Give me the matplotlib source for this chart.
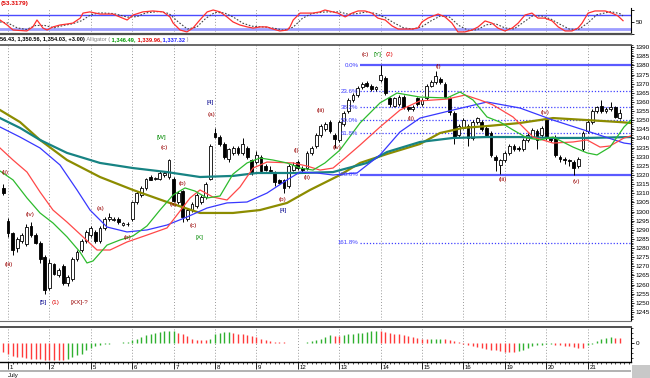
import matplotlib
matplotlib.use("Agg")
import matplotlib.pyplot as plt
import matplotlib.transforms as mtransforms
from matplotlib import font_manager
from matplotlib.lines import Line2D
from matplotlib.patches import Rectangle
from matplotlib.ticker import MultipleLocator, FixedLocator
import numpy as np

# ---------------- data ----------------
day_labels = ["1", "2", "5", "6", "7", "8", "9", "12", "13", "14", "15", "16", "19", "20", "21"]
month_label = "July"
bars_per_day = 9
first_bar = -1

opens = [1313, 1295, 1288, 1280, 1284, 1282, 1292, 1287, 1283, 1275, 1258, 1271, 1265, 1270, 1261,
         1263, 1274, 1279, 1284, 1287, 1289, 1284, 1291, 1296, 1295.5, 1296, 1292.5, 1293, 1296, 1305,
         1309, 1313, 1319, 1318, 1318, 1320, 1319, 1318, 1305, 1311, 1296, 1301, 1303, 1305, 1308,
         1318, 1343, 1341, 1337, 1329, 1332, 1335, 1332, 1335, 1328, 1327, 1330, 1325, 1323, 1321,
         1317, 1317, 1314, 1323, 1327, 1324, 1324, 1332, 1336, 1342, 1345, 1349, 1342, 1339, 1348,
         1355, 1361, 1364, 1368, 1370.5, 1369, 1367, 1372, 1373, 1362, 1358, 1359, 1363, 1357, 1356,
         1362, 1359, 1362, 1369, 1371, 1372.5, 1370, 1362, 1354, 1342, 1346, 1347, 1340, 1349, 1349,
         1346, 1343, 1330, 1325.5, 1328, 1332, 1336, 1335, 1334, 1339, 1341, 1344, 1342, 1350, 1340,
         1341, 1330, 1329, 1328, 1327, 1325, 1334, 1344, 1349, 1355, 1358, 1355, 1356, 1357, 1351]
highs = [1315, 1296.5, 1289, 1286, 1288, 1293, 1294, 1288, 1284, 1276, 1274, 1272, 1269, 1271, 1265,
         1275, 1279, 1285, 1290, 1292, 1290, 1292, 1297, 1299, 1297, 1297, 1294, 1294, 1306, 1311,
         1314, 1318.5, 1320, 1319, 1322, 1322, 1329, 1319, 1311, 1312, 1302, 1305, 1310, 1309, 1316,
         1337, 1346, 1342, 1338, 1335, 1336, 1336, 1340, 1336, 1329, 1333, 1331, 1326, 1325, 1322,
         1318, 1318, 1326, 1327, 1328, 1325, 1333, 1336, 1343, 1348, 1349, 1350, 1343, 1350, 1355,
         1362, 1365, 1368.5, 1371, 1371.5, 1370, 1369, 1380, 1374, 1363, 1363, 1364, 1364, 1358, 1358.5,
         1363, 1362, 1370, 1372, 1377, 1373.5, 1371, 1363, 1355, 1348, 1351, 1348, 1350, 1352, 1350,
         1347, 1344, 1331, 1329, 1333, 1337, 1337, 1336, 1340, 1343, 1345.5, 1345, 1347, 1351, 1341,
         1342, 1331, 1330, 1329, 1328, 1330, 1344, 1350, 1356, 1358, 1361, 1357, 1360, 1358, 1356.4]
lows = [1309, 1286, 1276, 1278, 1283, 1281, 1286, 1282, 1272, 1255, 1257, 1265, 1264, 1260, 1259,
        1262, 1273, 1278, 1283, 1286, 1283, 1283, 1290, 1295, 1295, 1293, 1292, 1292, 1295, 1304,
        1308, 1312, 1317, 1317, 1317, 1319, 1318, 1305, 1304, 1294, 1295, 1300, 1302, 1304, 1307,
        1317, 1340, 1336, 1329, 1327, 1331, 1331, 1331, 1329, 1320, 1326, 1321, 1322, 1321, 1314,
        1315, 1310, 1313, 1322, 1323, 1321, 1323, 1331, 1335, 1341, 1344, 1343, 1335, 1338, 1347,
        1354, 1360, 1363, 1367, 1368, 1366, 1366, 1371, 1364, 1357, 1357, 1358, 1356, 1355, 1355,
        1358, 1358, 1361, 1368, 1370, 1370, 1362, 1353, 1337, 1341, 1345, 1336, 1339, 1348, 1344,
        1341, 1330, 1322, 1320.5, 1327, 1331, 1333, 1333, 1333, 1338, 1340, 1334, 1341, 1339, 1338,
        1330, 1327, 1326, 1325, 1320, 1324, 1333, 1343, 1348, 1354, 1354, 1354, 1355, 1351, 1350.6]
closes = [1310, 1288, 1279, 1285, 1287, 1291.5, 1287, 1283, 1274, 1257, 1272, 1266, 1268, 1261, 1264,
          1274, 1278, 1284, 1289, 1291, 1284, 1291, 1296, 1297, 1296, 1294, 1293.5, 1293.2, 1305, 1310,
          1313, 1318, 1317.5, 1318.3, 1321, 1321, 1328, 1306, 1310, 1297, 1301, 1304, 1309, 1308, 1315,
          1336, 1341, 1337, 1330, 1334, 1335, 1332, 1337, 1330, 1321, 1331, 1322, 1323, 1322, 1316,
          1315.5, 1313, 1325, 1325.5, 1324, 1322.5, 1332, 1335, 1342, 1347, 1348, 1344, 1339.5, 1349, 1354,
          1361, 1364, 1367.5, 1370, 1369, 1367, 1368, 1375, 1365, 1359, 1362, 1363, 1357, 1356, 1357.5,
          1359, 1361, 1369, 1371, 1374, 1371, 1363, 1354.5, 1341, 1347, 1350, 1340, 1349, 1351, 1345,
          1342, 1331, 1328, 1328, 1332, 1336, 1334, 1334.5, 1339, 1342, 1344.5, 1339, 1346, 1340, 1339,
          1331, 1329, 1328, 1327.5, 1324, 1329, 1343, 1349, 1355, 1357, 1355, 1356, 1357, 1352, 1354]

# Alligator + two long averages (bar position, price)
lips_x = [-1.74, 1.09, 4.13, 6.96, 9.78, 12.83, 15.65, 17.17, 18.48, 21.52, 24.35, 27.17, 30.22, 33.04,
          35.87, 38.48, 40.65, 43.26, 46.09, 48.91, 51.96, 54.78, 57.61, 60.65, 63.48, 66.3, 68.9, 72.17,
          76.52, 80.87, 84.57, 89.57, 95.43, 98.26, 101.09, 104.13, 106.96, 109.78, 112.83, 115.65, 118.48,
          122.83, 125.87, 128.04, 130.87, 133.91, 135.43]
lips_y = [1322.2, 1317.3, 1307.4, 1299.2, 1293.7, 1286.1, 1277.8, 1271.8, 1272.9, 1281.6, 1284.4, 1286.6,
          1292.1, 1300.8, 1309.0, 1312.9, 1311.2, 1307.4, 1308.5, 1320.5, 1326.6, 1329.3, 1328.2, 1326.6,
          1323.8, 1322.7, 1326.6, 1333.7, 1348.5, 1359.5, 1364.9, 1362.7, 1362.2, 1365.5, 1361.1, 1351.8,
          1349.0, 1344.7, 1340.3, 1339.2, 1340.8, 1335.3, 1332.1, 1331.0, 1335.3, 1346.3, 1350.1]
teeth_x = [-1.74, 1.09, 4.13, 6.96, 9.78, 12.83, 16.3, 19.35, 22.17, 25.87, 30.22, 34.57, 36.74, 39.57,
           41.74, 44.57, 47.61, 50.43, 53.26, 56.3, 61.96, 65.0, 67.83, 70.65, 73.26, 76.52, 80.87, 85.22,
           89.57, 95.43, 99.35, 102.61, 105.43, 109.78, 114.13, 118.48, 122.83, 125.87, 128.7, 130.87,
           133.91, 135.43]
teeth_y = [1334.8, 1328.2, 1321.6, 1310.7, 1300.8, 1294.2, 1286.1, 1278.9, 1278.9, 1283.3, 1287.1, 1291.0,
           1298.1, 1307.4, 1311.8, 1307.9, 1306.3, 1313.4, 1323.8, 1327.1, 1326.6, 1324.9, 1322.7, 1323.8,
           1329.3, 1336.4, 1346.3, 1355.6, 1360.6, 1361.6, 1363.8, 1361.1, 1358.4, 1351.8, 1340.8, 1337.5,
           1338.1, 1339.2, 1335.3, 1335.9, 1340.3, 1341.4]
jaw_x = [-1.74, 2.61, 6.96, 11.3, 15.0, 17.83, 21.52, 25.87, 30.22, 34.57, 38.91, 43.26, 47.61, 51.96,
         56.3, 60.65, 63.48, 67.17, 70.65, 75.87, 80.87, 85.22, 89.57, 96.74, 104.13, 111.3, 118.48,
         125.87, 133.91, 135.43]
jaw_y = [1346.3, 1340.8, 1334.8, 1325.5, 1311.8, 1300.8, 1291.5, 1288.8, 1289.9, 1292.6, 1297.0, 1301.9,
         1304.7, 1305.2, 1310.1, 1317.3, 1321.6, 1321.1, 1320.0, 1321.1, 1331.0, 1343.6, 1351.2, 1355.6,
         1360.0, 1356.7, 1350.1, 1344.1, 1337.5, 1337.0]
ma_teal_x = [-1.74, 2.61, 6.96, 12.83, 20.0, 27.17, 34.57, 41.74, 48.91, 54.13, 63.48, 70.65, 78.04,
             82.39, 89.57, 96.74, 104.13, 111.3, 118.48, 125.87, 135.43]
ma_teal_y = [1351.2, 1345.8, 1339.2, 1332.1, 1326.6, 1323.8, 1321.6, 1318.9, 1319.5, 1321.1, 1321.1,
             1321.6, 1326.6, 1332.6, 1338.1, 1340.3, 1340.8, 1340.8, 1340.3, 1340.3, 1340.8]
ma_olive_x = [-1.74, 2.61, 6.96, 12.83, 20.0, 27.17, 34.57, 41.74, 48.91, 54.78, 60.65, 65.65, 72.17,
              76.52, 82.39, 89.57, 93.91, 98.91, 104.13, 111.3, 118.48, 125.87, 133.04, 135.43]
ma_olive_y = [1355.6, 1349.0, 1339.2, 1328.2, 1318.9, 1311.8, 1305.2, 1299.2, 1299.2, 1300.8, 1304.7,
              1311.8, 1320.0, 1326.6, 1331.5, 1337.0, 1343.0, 1345.8, 1346.8, 1348.5, 1351.2, 1350.1,
              1349.0, 1348.5]

# Fibonacci retracement
fib_high = 1380
fib_low = 1320
fib_start = 76.5
fib_ratios = [0.0, 0.236, 0.382, 0.5, 0.618, 1.0, 1.618]
fib_names = ["0.0%", "23.6%", "38.2%", "50.0%", "61.8%", "100.0%", "161.8%"]

# Stochastic (%K solid, %D dotted)
stoch_k_x = [-1.74, -0.2, 1.1, 4.1, 5.4, 6.3, 7.6, 8.5, 9.8, 11.3, 12.8, 14.1, 15.7, 16.3, 17.8, 20,
             21.5, 22.8, 25.9, 27.2, 29.3, 31.5, 33.7, 35.2, 35.9, 37.4, 38.9, 40.2, 41.7, 43.3, 44.6,
             46.1, 47.6, 48.9, 50.4, 52, 53.3, 54.8, 56.3, 57.6, 59.1, 60.7, 61.3, 62, 63.5, 65, 66.3,
             67.8, 68.9, 71.7, 73.3, 74.8, 76.1, 77.6, 79.1, 80.4, 82, 83.5, 84.8, 87.8, 89.1, 90, 91.3,
             93.5, 95, 96.5, 97.8, 99.3, 100.9, 102.2, 103.7, 105.2, 106.5, 108, 109.6, 110.9, 112.4,
             113.9, 115.2, 116.7, 118.3, 119.6, 121.1, 122.6, 123.9, 124.8, 126.1, 127.6, 129.8, 131.3,
             132.6, 133.7]
stoch_k = [58, 37, 16, 12, 29, 58, 24, 16, 29, 37, 41, 45, 66, 87, 92, 83, 83, 83, 58, 79, 92, 96, 92,
           71, 45, 16, 8, 24, 58, 92, 100, 92, 71, 50, 37, 29, 24, 29, 29, 20, 12, 16, 29, 58, 87, 87,
           87, 92, 100, 87, 71, 87, 96, 96, 87, 66, 58, 33, 20, 20, 24, 50, 66, 83, 71, 45, 8, 8, 16,
           29, 54, 45, 24, 12, 24, 45, 79, 87, 66, 66, 54, 29, 12, 12, 24, 45, 87, 96, 96, 87, 75, 55]
stoch_d_x = [-1.74, 0, 2, 4, 6, 8, 10, 12, 14, 16, 18, 20, 23, 26, 28, 30, 33, 35, 37, 39, 41, 43, 45,
             47, 49, 51, 53, 56, 58, 60, 62, 64, 66, 69, 72, 74, 76, 78, 80, 82, 84, 86, 88, 90, 92, 94,
             96, 98, 100, 102, 104, 106, 108, 110, 112, 114, 116, 118, 120, 122, 124, 126, 128, 131,
             133, 133.7]
stoch_d = [50, 45, 25, 18, 35, 35, 25, 35, 42, 55, 80, 88, 85, 70, 72, 88, 94, 85, 50, 20, 28, 65, 90,
           88, 70, 45, 32, 28, 23, 15, 28, 65, 85, 92, 92, 82, 85, 92, 85, 68, 45, 25, 20, 30, 55, 75,
           70, 35, 15, 17, 38, 42, 25, 20, 48, 75, 75, 62, 40, 20, 18, 45, 80, 93, 85, 75]
stoch_levels = [80, 20]
stoch_last = "(53.3179)"

# Oscillator histogram, one value per bar
osc = [-9, -11, -12.5, -13.5, -14, -15, -15.5, -16, -16.3, -16.7, -17, -17.2, -17.3, -17.4, -16, -14,
       -12, -10.5, -7, -4.5, -3, -2, -1.3, -0.7, -0.2, 0.3, 0.6, 1.5, 3, 4.3, 6, 7.7, 9.5, 10, 11,
       11.7, 12, 12.2, 10.5, 8.7, 6.7, 4.5, 3.5, 3.3, 3.2, 4.5, 9, 10, 11, 11.3, 10.5, 9, 8.7, 7.8,
       7.5, 6, 4.5, 3.3, 2, 1.2, 0.8, 0.6, 0.4, 0.2, 0.1, 0.5, 1, 2, 2.7, 4.3, 6, 7.7, 7.5, 7.3, 7.8,
       8.7, 9.3, 9.6, 10, 11, 11.7, 12.1, 12, 11, 10, 9.3, 8.7, 7.7, 6.8, 6, 5.3, 4.3, 3.6, 3.7, 4.2,
       4.4, 4.3, 3.3, 2, 0.6, -1.3, -2.3, -3.3, -4, -4.7, -5.7, -6.7, -7.3, -8, -8.5, -9, -9.1, -8,
       -6.7, -4.7, -3.3, -2.3, -1.7, -1.4, -1.3, -1.7, -2.2, -2.7, -3.3, -4, -4.7, -4.8, -2, -0.7, 2,
       4, 5.3, 5.6, 5.5, 5.4]

# Elliott wave annotations: (bar position, price, text, colour)
DR, RD, GR, NV = "#990000", "#e00000", "#008a00", "#00008c"
wave_labels = [(-0.65, 1321.6, "(ii)", DR), (4.8, 1298.1, "(iv)", DR), (0.2, 1270.7, "(iii)", DR),
               (7.6, 1250.4, "[5]", NV), (10.4, 1250.4, "(1)", RD), (15.6, 1250.4, "[XX]-?", DR),
               (20.2, 1301.9, "(a)", DR), (25.9, 1285.5, "(b)", DR), (33.9, 1334.8, "(c)", DR),
               (33.3, 1340.8, "[W]", GR), (35.9, 1303.6, "(a)", DR), (38.0, 1315.1, "(b)", DR),
               (40.2, 1292.6, "(c)", DR), (41.7, 1285.5, "[X]", GR), (43.9, 1359.5, "[4]", NV),
               (44.3, 1352.9, "(a)", DR), (59.6, 1306.8, "(b)", DR), (59.8, 1300.8, "[4]", NV),
               (62.6, 1333.2, "(i)", DR), (65.0, 1318.9, "(ii)", DR), (68.0, 1355.6, "(iii)", DR),
               (71.5, 1335.3, "(iv)", DR), (77.6, 1385.8, "(c)", DR), (80.4, 1385.8, "[Y]", GR),
               (83.0, 1385.8, "(2)", RD), (93.5, 1379.7, "(i)", DR), (87.6, 1351.2, "(ii)", DR),
               (107.6, 1317.3, "(iii)", DR), (116.7, 1354.5, "(iv)", DR), (123.5, 1316.2, "(v)", DR)]

header_ohlc = "56.43, 1,350.56, 1,354.03, +3.00)"
header_name = "Alligator ("
header_vals = ["1,346.49,", "1,339.96,", "1,337.32"]
header_cols = ["#009a00", "#e00000", "#2020ff"]

# ---------------- figure ----------------
W, H = 650, 378
fig = plt.figure(figsize=(W / 100, H / 100), dpi=100)
fig.patch.set_facecolor("white")
plt.rcParams["font.family"] = ["DejaVu Sans"]

_names = {f.name for f in font_manager.fontManager.ttflist}
NARROW = "Liberation Sans Narrow" if "Liberation Sans Narrow" in _names else (
    "Liberation Sans" if "Liberation Sans" in _names else "DejaVu Sans")
SMALL = "Liberation Sans" if "Liberation Sans" in _names else "DejaVu Sans"


def rect(x0, y0, x1, y1):
    return [x0 / W, 1 - y1 / H, (x1 - x0) / W, (y1 - y0) / H]


ax_st = fig.add_axes(rect(0, 8, 631, 34))
ax = fig.add_axes(rect(0, 45, 631, 320))
ax_h = fig.add_axes(rect(0, 327, 631, 362))

xmin, xmax = -1.74, 135.43
n_days = len(day_labels)
day_pos = [d * bars_per_day for d in range(n_days)]

for a in (ax_st, ax, ax_h):
    a.set_xlim(xmin, xmax)
    a.set_facecolor("white")
    for s in ("left", "top", "bottom"):
        a.spines[s].set_visible(False)
    a.spines["right"].set_linewidth(0.8)
    a.yaxis.tick_right()
    a.tick_params(axis="y", which="both", direction="out", labelsize=4.6, pad=1, colors="black")
    a.tick_params(axis="y", which="major", length=2.5, width=0.6)
    a.tick_params(axis="y", which="minor", length=1.2, width=0.5)
    a.set_xticks([])
    for p in day_pos:
        a.axvline(p, color="#9a9a9a", lw=0.7, ls=(0, (1, 2)), zorder=0)

# ---- stochastic panel ----
ax_st.set_ylim(-0.8, 108.4)
ax_st.axhline(stoch_levels[0], color="#4b4bff", lw=1.0, zorder=1)
ax_st.axhline(stoch_levels[1], color="#9d9dff", lw=2.0, zorder=1)
ax_st.plot(stoch_d_x, stoch_d, color="#444444", lw=0.8, ls=(0, (1.5, 1.5)), zorder=3)
ax_st.plot(stoch_k_x, stoch_k, color="#ff3030", lw=0.9, zorder=4)
ax_st.yaxis.set_major_locator(FixedLocator([0, 50, 100]))
ax_st.set_yticklabels(["", "50", ""], fontfamily=SMALL)
fig.text(1 / W, 1 - 3.5 / H, stoch_last, color="#e00000", fontsize=4.6, fontweight="bold",
         va="center", fontfamily=SMALL)

# ---- price panel ----
ax.set_ylim(1240.55, 1391.23)
ax.yaxis.set_major_locator(FixedLocator(list(range(1245, 1391, 5))))
ax.yaxis.set_minor_locator(MultipleLocator(1))
ax.set_yticklabels([str(v) for v in range(1245, 1391, 5)], fontfamily=SMALL)

xb = np.arange(first_bar, first_bar + len(closes))
o = np.array(opens, float)
c = np.array(closes, float)
hi = np.array(highs, float)
lo = np.array(lows, float)
up = c >= o
ax.vlines(xb, lo, hi, color="black", lw=0.7, zorder=2)
bottom = np.minimum(o, c)
height = np.maximum(np.abs(c - o), 0.4)
ax.bar(xb[up], height[up], bottom=bottom[up], width=0.62, facecolor="white", edgecolor="black",
       linewidth=0.6, zorder=3)
ax.bar(xb[~up], height[~up], bottom=bottom[~up], width=0.62, facecolor="black", edgecolor="black",
       linewidth=0.6, zorder=3)

ax.plot(ma_olive_x, ma_olive_y, color="#8c8c00", lw=1.6, zorder=4)
ax.plot(ma_teal_x, ma_teal_y, color="#178383", lw=1.6, zorder=4)
ax.plot(jaw_x, jaw_y, color="#3838ff", lw=0.9, zorder=5)
ax.plot(teeth_x, teeth_y, color="#ff4848", lw=0.9, zorder=5)
ax.plot(lips_x, lips_y, color="#2dbb2d", lw=0.9, zorder=5)

for r, name in zip(fib_ratios, fib_names):
    lvl = fib_high - r * (fib_high - fib_low)
    solid = r in (0.0, 1.0)
    ax.hlines(lvl, fib_start, xmax, color="#5a5aff" if solid else "#4040ff",
              lw=1.6 if solid else 0.9, ls="-" if solid else (0, (1, 1.5)), zorder=1)
    ax.text(fib_start - 0.3, lvl, name, color="#3c3cff", fontsize=4.4, ha="right", va="center",
            zorder=6, fontfamily=SMALL)

for bx, py, t, col in wave_labels:
    ax.text(bx, py, t, color=col, fontsize=4.6, ha="center", va="center", zorder=7, fontfamily=SMALL)

# ---- oscillator panel ----
ax_h.set_ylim(-19, 16)
osc_arr = np.array(osc, float)
xo = np.arange(first_bar, first_bar + len(osc))
rising = np.concatenate([[False], osc_arr[1:] > osc_arr[:-1]])
cols = np.where(rising, "#2fb02f", "#ff3a3a")
ax_h.vlines(xo, 0, osc_arr, colors=cols, lw=1.0, zorder=2)
ax_h.yaxis.set_major_locator(FixedLocator([0]))
ax_h.yaxis.set_minor_locator(FixedLocator([-15, -10, -5, 5, 10, 15]))
ax_h.set_yticklabels(["0"], fontfamily=SMALL)
ax_h.spines["bottom"].set_visible(True)
ax_h.spines["bottom"].set_linewidth(1.0)
ax_h.set_xticks(day_pos)
ax_h.set_xticks(list(range(0, int(xmax) + 1)), minor=True)
ax_h.tick_params(axis="x", which="major", length=5, width=0.6, labelbottom=False)
ax_h.tick_params(axis="x", which="minor", length=1.5, width=0.5)
tr = mtransforms.blended_transform_factory(ax_h.transData, ax_h.transAxes)
for p, lab in zip(day_pos, day_labels):
    ax_h.text(p + 0.35, -0.15, lab, transform=tr, fontsize=4.4, ha="left", va="center",
              clip_on=False, fontfamily=SMALL)
fig.text(8 / W, 1 - 375 / H, month_label, fontsize=4.4, va="center", fontfamily=SMALL)

# ---- header line (pieces chained one after another) ----
yh = 1 - 40 / H
HFS = 4.1
prev = fig.text(0, yh, header_ohlc, fontsize=HFS, fontweight="bold", va="center", color="black",
                fontfamily=NARROW)
pieces = [(" " + header_name, "#808080", "normal")]
pieces += [(" " + v, col, "bold") for v, col in zip(header_vals, header_cols)]
pieces += [(" )", "#808080", "normal")]
for txt, col, wt in pieces:
    prev = ax_st.annotate(txt, xy=(1, 0.5), xycoords=prev, va="center", ha="left", fontsize=HFS,
                          color=col, fontweight=wt, fontfamily=NARROW, annotation_clip=False)

# ---- separators / frame ----
def hline_px(y, x0, x1, color, lw):
    fig.add_artist(Line2D([x0 / W, x1 / W], [1 - y / H, 1 - y / H], color=color, lw=lw,
                          transform=fig.transFigure))

hline_px(34, 0, 631, "#505050", 1.6)
hline_px(44.5, 0, 631, "#505050", 1.2)
hline_px(321, 0, 631, "#707070", 0.8)
hline_px(326.5, 0, 631, "#505050", 1.4)
fig.add_artist(Rectangle((0, 1 - 372 / H), 631 / W, 2.5 / H, transform=fig.transFigure,
                         facecolor="#b4b4b4", edgecolor="none"))
fig.add_artist(Rectangle((632 / W, 0), 18 / W, 13 / H, transform=fig.transFigure,
                         facecolor="#c8c8c8", edgecolor="none"))

fig.savefig("out.png", dpi=100, facecolor="white")
